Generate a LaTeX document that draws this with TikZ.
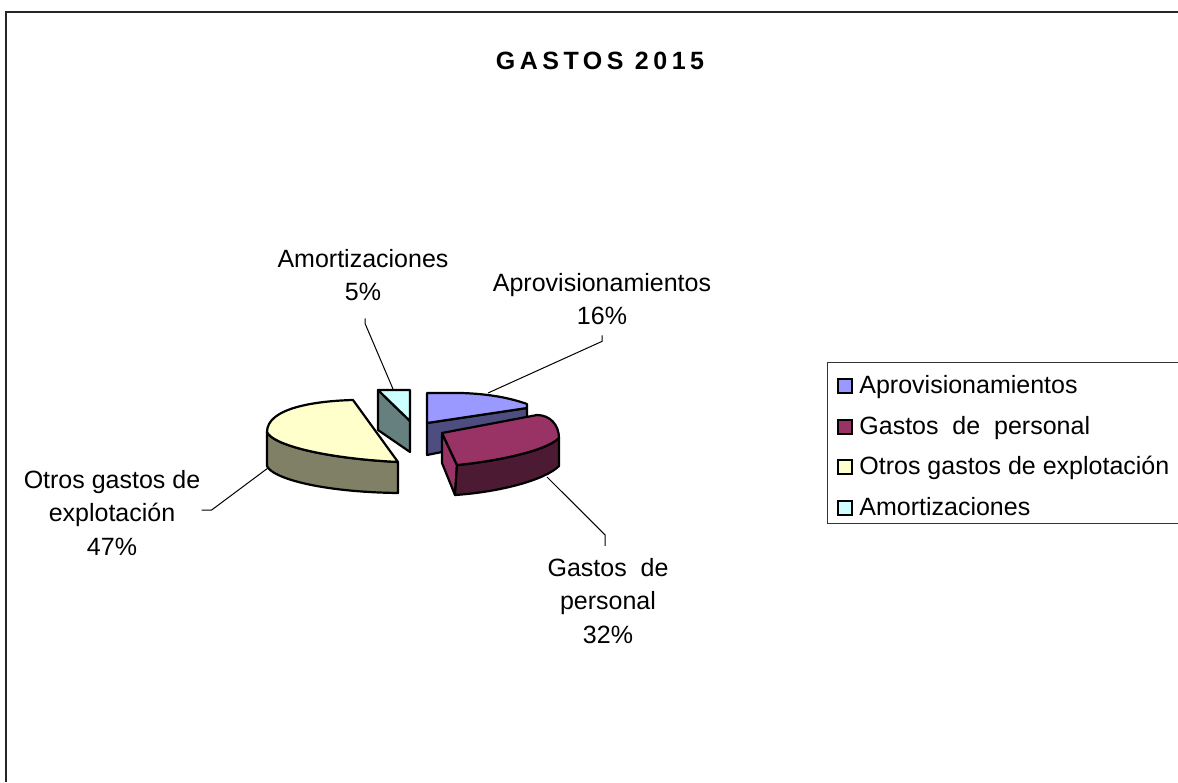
\documentclass[tikz,border=0pt]{standalone}
\usepackage{fontspec}
\setmainfont{Liberation Sans}
\newfontfamily\titlefont[LetterSpace=18]{Liberation Sans}
\usetikzlibrary{positioning}
\definecolor{aprovblue}{RGB}{153,153,255}
\definecolor{aprovside}{RGB}{77,77,128}
\definecolor{personalred}{RGB}{153,51,102}
\definecolor{personalside}{RGB}{77,26,51}
\definecolor{otrosyellow}{RGB}{255,255,204}
\definecolor{otrosside}{RGB}{128,128,102}
\definecolor{amortcyan}{RGB}{204,255,255}
\definecolor{amortside}{RGB}{102,128,128}
\tikzset{
    slice/.style={draw=black, line width=1.1pt, line join=round},
    pielabel/.style={align=center, inner sep=0pt, font=\fontsize{12.5}{16.8}\selectfont},
    leader/.style={draw=black, line width=0.5pt},
    legendkey/.style={draw=black, line width=0.8pt, minimum size=7pt, inner sep=0pt},
    legendtext/.style={anchor=base west, inner sep=0pt, font=\fontsize{12.5}{15}\selectfont}
}

\begin{document}
\begin{tikzpicture}[x=0.5pt, y=-0.5pt]
    \useasboundingbox (0,0) rectangle (1178,782);
    % Frame
    \draw[line width=1pt, draw=black!85] (6,782) -- (6,12) -- (1178,12);

    % Title
    \node[inner sep=0pt, font=\titlefont\fontsize{12.5}{15}\selectfont\bfseries] (title) at (600,61) {GASTOS 2015};

    % Otros gastos de explotacion
    \filldraw[slice, fill=otrosside] (267,432) -- (267,466) .. controls (272,478) and (320,492) .. (398,493) -- (398,462) .. controls (320,458) and (272,444) .. (267,432) -- cycle;
    \filldraw[slice, fill=otrosyellow] (353,400) .. controls (315,401) and (267,408) .. (267,432) .. controls (272,444) and (320,458) .. (398,462) -- cycle;
    \coordinate (otrospt) at (268,468);

    % Amortizaciones
    \filldraw[slice, fill=amortside] (378,390) -- (410,421) -- (410,452) -- (378,430) -- cycle;
    \filldraw[slice, fill=amortcyan] (378,390) -- (410,390) -- (410,421) -- cycle;
    \coordinate (amortpt) at (393,389);

    % Aprovisionamientos
    \filldraw[slice, fill=aprovside] (427,423) -- (527,408) -- (527,430) -- (442,452) -- (427,455) -- cycle;
    \filldraw[slice, fill=aprovblue] (427,393) -- (462,393) .. controls (490,394) and (510,398) .. (527,404) -- (527,408) -- (427,423) -- cycle;
    \coordinate (aprovpt) at (488,393);

    % Gastos de personal
    \filldraw[slice, fill=personalred] (442,433) -- (457,465) -- (455,495) -- (442,463) -- cycle;
    \filldraw[slice, fill=personalside] (457,465) .. controls (490,462) and (545,452) .. (559,438) -- (559,466) .. controls (545,480) and (500,492) .. (455,495) -- cycle;
    \filldraw[slice, fill=personalred] (442,433) -- (537,415) .. controls (550,415) and (559,425) .. (559,438) .. controls (545,452) and (490,462) .. (457,465) -- cycle;
    \coordinate (personalpt) at (547,477);

    % Slice labels
    \node[pielabel] (amortlabel) at (363,275) {Amortizaciones\\5\%};
    \node[pielabel] (aprovlabel) at (602,299) {Aprovisionamientos\\16\%};
    \node[pielabel] (otroslabel) at (112,513) {Otros gastos de\\explotación\\47\%};
    \node[pielabel] (personallabel) at (608,601) {Gastos\ \ de\\personal\\32\%};

    % Leader lines
    \draw[leader] ([xshift=1pt, yshift=-8.5pt]amortlabel.south) -- ++(0,5) -- (amortpt);
    \draw[leader] ([yshift=-5pt]aprovlabel.south) -- ++(0,6) -- (aprovpt);
    \draw[leader] ([xshift=0.5pt, yshift=1.5pt]otroslabel.east) -- ++(10,0) -- (otrospt);
    \draw[leader] ([xshift=-1.5pt, yshift=6pt]personallabel.north) -- ++(0,-11) -- (personalpt);

    % Legend
    \draw[line width=0.5pt, draw=black!80] (827,362) rectangle (1190,523);
    \node[legendkey, fill=aprovblue] (keyaprov) at (845,386) {};
    \node[legendtext] (legaprov) at (859,393) {Aprovisionamientos};
    \node[legendkey, fill=personalred] (keypersonal) at (845,427) {};
    \node[legendtext] (legpersonal) at (859,434) {Gastos\ \ de\ \ personal};
    \node[legendkey, fill=otrosyellow] (keyotros) at (845,467) {};
    \node[legendtext] (legotros) at (859,474) {Otros gastos de explotación};
    \node[legendkey, fill=amortcyan] (keyamort) at (845,508) {};
    \node[legendtext] (legamort) at (859,515) {Amortizaciones};
\end{tikzpicture}
\end{document}
